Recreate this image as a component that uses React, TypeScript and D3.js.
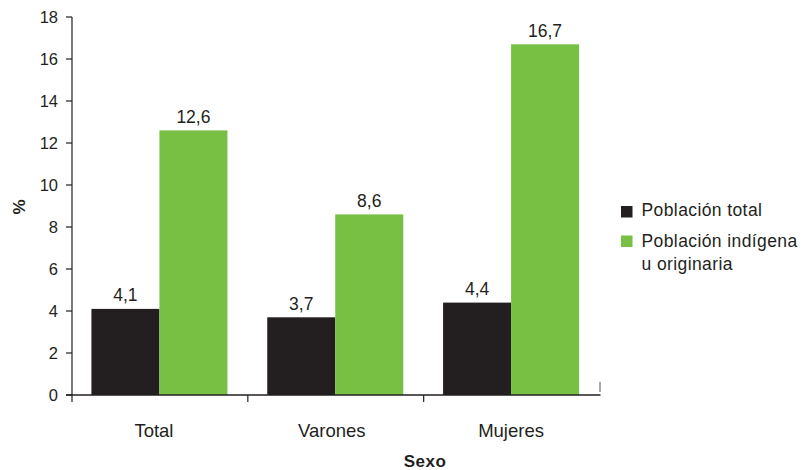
import React from "react";
import * as d3 from "d3";

const categories = ["Total", "Varones", "Mujeres"];
const seriesNames = ["Población total", "Población indígena u originaria"];
const totalValues = [4.1, 3.7, 4.4];
const indigenaValues = [12.6, 8.6, 16.7];
const yTicks = [0, 2, 4, 6, 8, 10, 12, 14, 16, 18];

const colors = ["#231f20", "#77c043"];
const font = "'Liberation Sans', Arial, Helvetica, sans-serif";
const labelOffsets = [-6, -4, -0.5];

export default function App() {
  const W = 801, H = 470;
  const x0 = 72, x1 = 599.5, yBase = 395, yTop = 17;
  const x = d3.scaleBand<string>().domain(categories).range([x0, x1]).paddingInner(0).paddingOuter(0);
  const y = d3.scaleLinear().domain([0, 18]).range([yBase, yTop]);
  const barW = 68;
  const fmt = (v: number) => v.toFixed(1).replace(".", ",");
  const series = [totalValues, indigenaValues];

  return (
    <svg width={W} height={H} style={{ position: "absolute", left: 0, top: 0, background: "#fff" }} fontFamily={font}>
      {categories.map((c, i) => {
        const bx = (x(c) as number) + (x.bandwidth() - 2 * barW) / 2 - 0.5;
        return (
          <g key={c}>
            {series.map((s, j) => (
              <g key={j}>
                <rect x={bx + j * barW} y={y(s[i])} width={barW} height={yBase - y(s[i])} fill={colors[j]} />
                <text x={bx + j * barW + barW / 2} y={y(s[i]) - 7.5} textAnchor="middle" fontSize={17.5} fill="#231f20">
                  {fmt(s[i])}
                </text>
              </g>
            ))}
          </g>
        );
      })}
      <line x1={x0} x2={x0} y1={yTop} y2={yBase + 7} stroke="#231f20" strokeWidth={1.2} />
      {yTicks.map((t) => (
        <g key={t}>
          <line x1={x0 - 6} x2={x0} y1={y(t)} y2={y(t)} stroke="#231f20" strokeWidth={1.2} />
          <text x={x0 - 14} y={y(t) + 6} textAnchor="end" fontSize={16.5} fill="#231f20">{t}</text>
        </g>
      ))}
      <line x1={x0 - 6} x2={x1 + 1} y1={yBase} y2={yBase} stroke="#231f20" strokeWidth={1.5} />
      {categories.map((c, i) => (
        <g key={c}>
          {i > 0 && (
            <line x1={x(c) as number} x2={x(c) as number} y1={yBase} y2={yBase + 7} stroke="#231f20" strokeWidth={1.2} />
          )}
          <text x={(x(c) as number) + x.bandwidth() / 2 + labelOffsets[i]} y={437} textAnchor="middle" fontSize={18.5} fill="#231f20">{c}</text>
        </g>
      ))}
      <line x1={x1 + 0.5} x2={x1 + 0.5} y1={382} y2={392} stroke="#555" strokeWidth={1} />
      <text x={425} y={467} textAnchor="middle" fontSize={17} letterSpacing={0.5} fontWeight="bold" fill="#231f20">Sexo</text>
      <text transform="translate(24.5,207) rotate(-90)" textAnchor="middle" fontSize={17} fontWeight="bold" fill="#231f20">%</text>
      <rect x={621} y={206} width={11.5} height={11.5} fill={colors[0]} />
      <text x={641.5} y={216} fontSize={17.5} letterSpacing={0.4} fill="#231f20">{seriesNames[0]}</text>
      <rect x={621} y={235.5} width={11.5} height={11.5} fill={colors[1]} />
      <text x={641.5} y={246.5} fontSize={17.5} letterSpacing={0.4} fill="#231f20">Población indígena</text>
      <text x={641.5} y={269.5} fontSize={17.5} letterSpacing={0.4} fill="#231f20">u originaria</text>
    </svg>
  );
}
